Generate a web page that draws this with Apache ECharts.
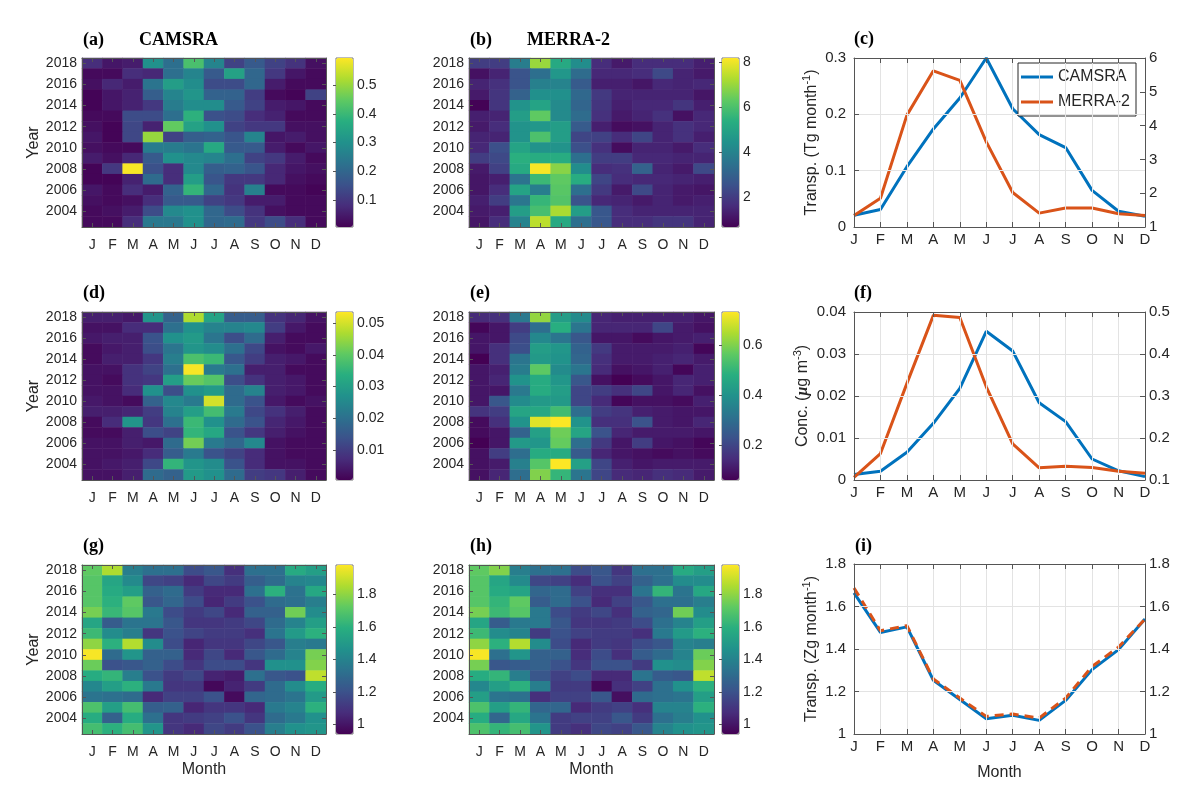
<!DOCTYPE html>
<html><head><meta charset="utf-8">
<script src="https://cdn.jsdelivr.net/npm/echarts@6/dist/echarts.min.js"></script>
<style>html,body{margin:0;padding:0;background:#fff}#c{width:1200px;height:807px}</style>
</head><body><div id="c"></div>
<script>
// ---------------- data ----------------
const months = ['J','F','M','A','M','J','J','A','S','O','N','D'];
const years = ['2003','2004','2005','2006','2007','2008','2009','2010','2011','2012','2013','2014','2015','2016','2017','2018'];

// heatmap rows listed from 2018 (top) down to 2003 (bottom)
const camsraTransp = [
 [0.08,0.04,0.05,0.30,0.22,0.42,0.27,0.12,0.17,0.12,0.09,0.03],
 [0.02,0.02,0.08,0.07,0.22,0.27,0.17,0.34,0.20,0.10,0.04,0.02],
 [0.03,0.07,0.05,0.23,0.33,0.29,0.14,0.14,0.20,0.05,0.02,0.02],
 [0.01,0.04,0.06,0.18,0.27,0.31,0.19,0.19,0.11,0.02,0.01,0.12],
 [0.01,0.04,0.06,0.10,0.25,0.29,0.29,0.17,0.12,0.05,0.04,0.02],
 [0.02,0.02,0.14,0.14,0.22,0.38,0.15,0.14,0.08,0.06,0.02,0.02],
 [0.03,0.01,0.13,0.06,0.45,0.34,0.30,0.12,0.10,0.10,0.03,0.03],
 [0.04,0.01,0.13,0.50,0.12,0.18,0.19,0.16,0.27,0.04,0.05,0.03],
 [0.03,0.02,0.02,0.25,0.25,0.23,0.36,0.17,0.17,0.05,0.02,0.04],
 [0.05,0.03,0.07,0.17,0.30,0.28,0.27,0.22,0.12,0.10,0.05,0.02],
 [0.01,0.10,0.59,0.15,0.08,0.28,0.18,0.19,0.16,0.07,0.04,0.03],
 [0.01,0.01,0.06,0.21,0.08,0.33,0.16,0.10,0.10,0.07,0.03,0.02],
 [0.04,0.02,0.08,0.05,0.19,0.39,0.20,0.09,0.26,0.02,0.02,0.01],
 [0.03,0.02,0.03,0.08,0.17,0.17,0.12,0.10,0.05,0.05,0.02,0.02],
 [0.02,0.03,0.05,0.14,0.28,0.30,0.20,0.14,0.09,0.03,0.02,0.02],
 [0.02,0.02,0.08,0.24,0.24,0.30,0.20,0.21,0.10,0.14,0.08,0.02]
];
const merraTransp = [
 [2.0,2.0,3.8,7.0,5.2,4.3,1.6,1.2,1.6,1.6,1.6,1.3],
 [1.0,1.4,2.6,3.4,4.6,3.3,1.5,1.5,1.6,2.3,1.4,1.2],
 [1.4,1.7,2.6,3.9,4.0,2.8,1.3,1.3,1.1,1.5,1.4,1.5],
 [1.2,1.8,3.0,4.4,4.4,3.2,1.9,1.4,1.4,1.4,1.4,1.1],
 [0.7,1.8,4.5,5.0,4.2,3.1,1.8,1.3,1.5,1.5,1.8,1.3],
 [1.3,1.4,4.8,6.3,4.2,3.3,1.7,1.2,1.4,1.7,1.0,1.5],
 [1.2,1.6,4.5,4.6,4.8,2.8,1.3,0.9,1.0,1.4,1.7,1.5],
 [1.4,1.4,4.5,6.0,4.8,2.2,2.1,1.6,2.2,1.4,1.7,1.3],
 [1.5,2.5,5.0,4.5,4.5,2.5,1.7,0.9,1.4,1.4,1.2,1.6],
 [2.0,2.3,5.4,5.3,5.3,3.4,2.0,2.0,1.5,1.5,1.4,1.4],
 [1.2,2.1,5.2,8.1,6.8,4.3,1.6,1.7,3.0,1.4,1.2,2.3],
 [1.1,1.3,3.5,5.7,6.3,5.3,2.2,1.6,1.5,1.5,1.4,1.3],
 [1.1,1.6,5.0,3.8,6.2,3.4,1.9,1.2,2.3,1.4,1.2,1.1],
 [1.3,2.0,3.6,5.6,6.1,2.6,1.5,1.4,1.2,1.4,1.2,1.3],
 [1.2,1.3,4.8,5.9,7.2,4.8,2.7,1.6,1.4,1.4,1.4,1.4],
 [1.1,1.6,4.0,7.4,5.2,3.4,2.7,1.6,1.6,1.8,1.8,1.4]
];
const camsraConc = [
 [0.005,0.005,0.004,0.028,0.017,0.047,0.031,0.016,0.016,0.008,0.006,0.003],
 [0.003,0.003,0.007,0.007,0.020,0.027,0.024,0.024,0.025,0.010,0.004,0.002],
 [0.004,0.005,0.005,0.014,0.027,0.029,0.021,0.013,0.019,0.005,0.002,0.002],
 [0.002,0.004,0.005,0.013,0.021,0.028,0.026,0.020,0.012,0.003,0.002,0.004],
 [0.002,0.005,0.005,0.009,0.023,0.038,0.036,0.015,0.010,0.005,0.004,0.002],
 [0.003,0.003,0.008,0.011,0.020,0.053,0.022,0.020,0.005,0.005,0.002,0.002],
 [0.003,0.002,0.008,0.009,0.030,0.041,0.039,0.013,0.008,0.005,0.004,0.002],
 [0.003,0.003,0.007,0.027,0.013,0.027,0.029,0.019,0.024,0.005,0.004,0.002],
 [0.004,0.003,0.002,0.017,0.025,0.022,0.050,0.019,0.014,0.004,0.002,0.003],
 [0.005,0.005,0.006,0.010,0.024,0.030,0.037,0.022,0.012,0.008,0.005,0.002],
 [0.002,0.007,0.028,0.009,0.020,0.036,0.027,0.019,0.014,0.006,0.004,0.002],
 [0.002,0.002,0.005,0.013,0.011,0.035,0.032,0.014,0.009,0.005,0.003,0.002],
 [0.003,0.003,0.005,0.004,0.019,0.042,0.022,0.018,0.025,0.003,0.002,0.002],
 [0.003,0.003,0.004,0.007,0.016,0.022,0.014,0.011,0.007,0.003,0.002,0.002],
 [0.003,0.004,0.005,0.012,0.035,0.028,0.026,0.014,0.007,0.003,0.003,0.002],
 [0.003,0.003,0.005,0.019,0.017,0.029,0.027,0.019,0.010,0.009,0.005,0.002]
];
const merraConc = [
 [0.14,0.15,0.33,0.62,0.43,0.38,0.13,0.12,0.12,0.12,0.12,0.10],
 [0.07,0.10,0.18,0.30,0.48,0.32,0.13,0.13,0.13,0.20,0.11,0.09],
 [0.10,0.10,0.21,0.37,0.32,0.24,0.10,0.10,0.08,0.10,0.11,0.12],
 [0.10,0.15,0.22,0.43,0.41,0.27,0.17,0.11,0.11,0.11,0.12,0.07],
 [0.06,0.15,0.32,0.42,0.40,0.28,0.15,0.11,0.11,0.12,0.13,0.11],
 [0.10,0.12,0.34,0.56,0.38,0.32,0.14,0.09,0.10,0.12,0.07,0.12],
 [0.10,0.13,0.40,0.47,0.41,0.24,0.09,0.06,0.08,0.10,0.13,0.12],
 [0.10,0.10,0.33,0.47,0.43,0.20,0.18,0.15,0.20,0.10,0.13,0.09],
 [0.10,0.24,0.38,0.42,0.42,0.20,0.14,0.07,0.09,0.09,0.08,0.12],
 [0.16,0.18,0.45,0.46,0.52,0.30,0.18,0.16,0.12,0.11,0.10,0.10],
 [0.08,0.15,0.40,0.70,0.73,0.40,0.15,0.15,0.23,0.11,0.10,0.13],
 [0.08,0.10,0.27,0.44,0.58,0.45,0.23,0.13,0.11,0.11,0.11,0.10],
 [0.06,0.10,0.42,0.41,0.57,0.30,0.17,0.10,0.18,0.10,0.09,0.07],
 [0.09,0.18,0.30,0.47,0.47,0.25,0.13,0.10,0.09,0.08,0.09,0.08],
 [0.09,0.11,0.35,0.55,0.73,0.44,0.20,0.12,0.10,0.11,0.11,0.11],
 [0.09,0.13,0.30,0.60,0.50,0.32,0.20,0.14,0.13,0.15,0.14,0.11]
];
const camsraMoist = [
 [1.72,1.85,1.38,1.32,1.32,1.18,1.22,1.08,1.32,1.32,1.57,1.52],
 [1.70,1.55,1.43,1.16,1.14,1.06,1.16,1.12,1.25,1.30,1.40,1.42],
 [1.70,1.57,1.52,1.26,1.30,1.12,1.06,1.06,1.32,1.60,1.33,1.56],
 [1.70,1.60,1.72,1.22,1.28,1.18,1.05,1.12,1.20,1.30,1.32,1.38],
 [1.76,1.63,1.70,1.36,1.18,1.12,1.16,1.06,1.26,1.26,1.75,1.44],
 [1.55,1.24,1.34,1.34,1.22,1.10,1.10,1.12,1.16,1.30,1.40,1.52],
 [1.64,1.44,1.38,1.10,1.20,1.15,1.12,1.12,1.08,1.34,1.50,1.60],
 [1.80,1.60,1.86,1.44,1.18,1.05,1.10,1.10,1.16,1.22,1.38,1.36],
 [1.97,1.30,1.48,1.26,1.26,1.06,1.16,1.06,1.22,1.30,1.40,1.76],
 [1.74,1.20,1.22,1.26,1.18,1.10,1.18,1.18,1.10,1.46,1.46,1.78],
 [1.58,1.62,1.38,1.20,1.12,1.16,1.04,1.02,1.32,1.22,1.20,1.88],
 [1.42,1.52,1.60,1.36,1.10,1.10,0.96,1.04,1.12,1.30,1.44,1.58],
 [1.34,1.32,1.30,1.06,1.14,1.14,1.20,0.97,1.28,1.30,1.34,1.50],
 [1.68,1.52,1.66,1.25,1.26,1.05,1.10,1.10,1.06,1.36,1.40,1.60],
 [1.58,1.26,1.58,1.32,1.10,1.12,1.14,1.20,1.10,1.30,1.36,1.46],
 [1.66,1.60,1.66,1.48,1.10,1.06,1.16,1.12,1.20,1.38,1.46,1.48]
];
const merraMoist = [
 [1.72,1.78,1.38,1.32,1.32,1.18,1.22,1.10,1.32,1.32,1.57,1.52],
 [1.70,1.55,1.43,1.16,1.14,1.07,1.20,1.14,1.26,1.32,1.44,1.44],
 [1.70,1.57,1.54,1.28,1.30,1.14,1.08,1.08,1.34,1.62,1.34,1.56],
 [1.70,1.62,1.72,1.24,1.30,1.20,1.06,1.14,1.22,1.32,1.32,1.38],
 [1.76,1.64,1.70,1.36,1.18,1.12,1.16,1.08,1.26,1.28,1.75,1.44],
 [1.55,1.24,1.36,1.36,1.22,1.10,1.10,1.12,1.18,1.32,1.40,1.52],
 [1.64,1.44,1.40,1.12,1.20,1.14,1.12,1.12,1.08,1.36,1.50,1.60],
 [1.80,1.60,1.86,1.44,1.18,1.06,1.12,1.10,1.18,1.22,1.40,1.38],
 [1.97,1.32,1.48,1.26,1.26,1.07,1.18,1.08,1.24,1.30,1.40,1.74],
 [1.76,1.22,1.24,1.26,1.20,1.10,1.20,1.20,1.12,1.46,1.44,1.78],
 [1.58,1.62,1.38,1.22,1.14,1.18,1.06,1.06,1.34,1.24,1.22,1.88],
 [1.42,1.52,1.60,1.38,1.12,1.12,0.96,1.08,1.14,1.32,1.46,1.60],
 [1.52,1.34,1.32,1.08,1.14,1.14,1.22,0.98,1.30,1.32,1.34,1.52],
 [1.68,1.52,1.62,1.28,1.28,1.06,1.12,1.14,1.08,1.40,1.40,1.60],
 [1.58,1.28,1.56,1.34,1.12,1.14,1.14,1.22,1.12,1.32,1.38,1.46],
 [1.68,1.62,1.66,1.48,1.12,1.08,1.16,1.14,1.22,1.40,1.46,1.48]
];

// monthly climatologies (line panels)
const camsraTranspMean = [0.021,0.031,0.107,0.174,0.229,0.300,0.210,0.164,0.141,0.065,0.028,0.019];
const merraTranspMean  = [1.34,1.85,4.31,5.62,5.34,3.52,2.02,1.41,1.56,1.56,1.39,1.34];
const camsraConcMean   = [0.0013,0.0021,0.0066,0.0135,0.0218,0.0354,0.0307,0.0184,0.0139,0.0050,0.0022,0.0008];
const merraConcMean    = [0.106,0.163,0.330,0.492,0.487,0.322,0.186,0.129,0.133,0.130,0.121,0.116];
const camsraMoistMean  = [1.664,1.478,1.504,1.253,1.162,1.072,1.088,1.064,1.158,1.303,1.397,1.541];
const merraMoistMean   = [1.687,1.486,1.510,1.259,1.169,1.083,1.094,1.075,1.169,1.318,1.409,1.541];

// ---------------- build ----------------
const viridis = ['#440154','#472d7b','#3b528b','#2c728e','#21918c','#28ae80','#5ec962','#addc30','#fde725'];
const FONT = '"Liberation Sans", Arial, Helvetica, sans-serif';
const SERIF = '"Liberation Serif", "Times New Roman", serif';
const AX = '#555555';
const TXT = '#262626';
const BLUE = '#0072BD', ORANGE = '#D95319';

const grid=[], xAxis=[], yAxis=[], series=[], visualMap=[];
const evenYear = (i, v) => (+v) % 2 === 0;

const heatPanels = [
  {data: camsraTransp, x:82,  w:244, y:58,  h:169, cbx:336, min:0.005, max:0.595, split:5, yName:true},
  {data: merraTransp,  x:469, w:245, y:58,  h:169, cbx:722, min:0.66,  max:8.18,  split:5},
  {data: camsraConc,   x:82,  w:244, y:312, h:168, cbx:336, min:0.0005,max:0.0535,split:5, yName:true},
  {data: merraConc,    x:469, w:245, y:312, h:168, cbx:722, min:0.06,  max:0.731, split:3},
  {data: camsraMoist,  x:82,  w:244, y:565, h:169, cbx:336, min:0.94,  max:1.98,  split:5, yName:true, xName:true},
  {data: merraMoist,   x:469, w:245, y:565, h:169, cbx:722, min:0.94,  max:1.98,  split:5, xName:true}
];

const lineAxisStyle = {show:true, onZero:false, lineStyle:{color:AX, width:1}};
const tickStyle = (len) => ({show:true, inside:true, length:len, lineStyle:{color:AX, width:1}});
const labelStyle = (m) => ({fontSize:14, color:TXT, fontFamily:FONT, margin:m});

heatPanels.forEach(p => {
  const g = grid.length;
  grid.push({left:p.x, top:p.y, width:p.w, height:p.h});
  const xi = xAxis.length;
  xAxis.push({gridIndex:g, type:'category', data:months, position:'bottom', z:5,
    axisLine:lineAxisStyle, axisTick:Object.assign(tickStyle(4),{alignWithLabel:true, interval:0}),
    axisLabel:Object.assign(labelStyle(11),{interval:0}), splitLine:{show:false},
    name:p.xName?'Month':'', nameLocation:'middle', nameGap:28,
    nameTextStyle:{fontSize:16, color:TXT, fontFamily:FONT}});
  xAxis.push({gridIndex:g, type:'category', data:months, position:'top', z:5,
    axisLine:lineAxisStyle, axisTick:Object.assign(tickStyle(4),{alignWithLabel:true, interval:0}),
    axisLabel:{show:false}, splitLine:{show:false}});
  const yi = yAxis.length;
  yAxis.push({gridIndex:g, type:'category', data:years, position:'left', z:5,
    axisLine:lineAxisStyle, axisTick:Object.assign(tickStyle(4),{alignWithLabel:true, interval:evenYear}),
    axisLabel:Object.assign(labelStyle(5),{interval:evenYear}), splitLine:{show:false},
    name:p.yName?'Year':'', nameLocation:'middle', nameGap:40, nameRotate:90,
    nameTextStyle:{fontSize:16, color:TXT, fontFamily:FONT}});
  yAxis.push({gridIndex:g, type:'category', data:years, position:'right', z:5,
    axisLine:lineAxisStyle, axisTick:Object.assign(tickStyle(4),{alignWithLabel:true, interval:evenYear}),
    axisLabel:{show:false}, splitLine:{show:false}});
  const data = [];
  p.data.forEach((row, r) => row.forEach((v, c) => data.push([c, years.length - 1 - r, v])));
  const si = series.length;
  series.push({type:'heatmap', xAxisIndex:xi, yAxisIndex:yi, data:data, progressive:0,
    itemStyle:{borderWidth:0}, emphasis:{disabled:true}});
  visualMap.push({type:'continuous', seriesIndex:si, min:p.min, max:p.max, inRange:{color:viridis},
    calculable:false, hoverLink:false, left:p.cbx, top:p.y, itemWidth:17, itemHeight:p.h, padding:0, text:null});
  // colorbar axis
  const cg = grid.length;
  grid.push({left:p.cbx, top:p.y, width:17, height:p.h, show:true, borderColor:'#777', borderWidth:1, backgroundColor:'transparent'});
  xAxis.push({gridIndex:cg, type:'value', show:false, min:0, max:1});
  yAxis.push({gridIndex:cg, type:'value', position:'right', min:p.min, max:p.max, splitNumber:p.split, z:10,
    axisLine:{show:false}, axisTick:tickStyle(3),
    axisLabel:Object.assign(labelStyle(4),{showMinLabel:false, showMaxLabel:false}), splitLine:{show:false}});
});

const linePanels = [
  {a:camsraTranspMean, b:merraTranspMean, y:58,  h:169, lmin:0, lmax:0.3,  li:0.1,  rmin:1,   rmax:6,   ri:1,
   name:'Transp. (Tg month{s|-1})'},
  {a:camsraConcMean,   b:merraConcMean,   y:312, h:168, lmin:0, lmax:0.04, li:0.01, rmin:0.1, rmax:0.5, ri:0.1,
   name:'Conc. ({m|\u03bc}g m{s|-3})'},
  {a:camsraMoistMean,  b:merraMoistMean,  y:564, h:170, lmin:1, lmax:1.8,  li:0.2,  rmin:1,   rmax:1.8, ri:0.2,
   name:'Transp. (Zg month{s|-1})', dashed:true, xName:true}
];
const GRIDC = '#e3e3e3';
linePanels.forEach(p => {
  const g = grid.length;
  grid.push({left:854, top:p.y, width:291, height:p.h});
  const xi = xAxis.length;
  xAxis.push({gridIndex:g, type:'category', data:months, boundaryGap:false, position:'bottom', z:5,
    axisLine:lineAxisStyle, axisTick:Object.assign(tickStyle(5),{interval:0}),
    axisLabel:Object.assign(labelStyle(5),{interval:0, fontSize:15}),
    splitLine:{show:true, interval:0, lineStyle:{color:GRIDC, width:1}},
    name:p.xName?'Month':'', nameLocation:'middle', nameGap:31,
    nameTextStyle:{fontSize:16, color:TXT, fontFamily:FONT}});
  xAxis.push({gridIndex:g, type:'category', data:months, boundaryGap:false, position:'top', z:5,
    axisLine:lineAxisStyle, axisTick:Object.assign(tickStyle(5),{interval:0}),
    axisLabel:{show:false}, splitLine:{show:false}});
  const yl = yAxis.length;
  yAxis.push({gridIndex:g, type:'value', position:'left', min:p.lmin, max:p.lmax, interval:p.li, z:5,
    axisLine:lineAxisStyle, axisTick:tickStyle(5), axisLabel:Object.assign(labelStyle(8),{fontSize:15}),
    splitLine:{show:true, lineStyle:{color:GRIDC, width:1}},
    name:p.name, nameLocation:'middle', nameGap:32, nameRotate:90,
    nameTextStyle:{fontSize:16, color:TXT, fontFamily:FONT, lineHeight:20,
      rich:{s:{fontSize:11, color:TXT, fontFamily:FONT, verticalAlign:'top', lineHeight:12},
            m:{fontSize:16, color:TXT, fontFamily:SERIF, fontStyle:'italic', fontWeight:'bold', lineHeight:20}}}});
  const yr = yAxis.length;
  yAxis.push({gridIndex:g, type:'value', position:'right', min:p.rmin, max:p.rmax, interval:p.ri, z:5,
    axisLine:lineAxisStyle, axisTick:tickStyle(5), axisLabel:Object.assign(labelStyle(4),{fontSize:15}),
    splitLine:{show:false}});
  series.push({type:'line', name:'CAMSRA', xAxisIndex:xi, yAxisIndex:yl, data:p.a, symbol:'none',
    lineStyle:{color:BLUE, width:3}, itemStyle:{color:BLUE}, z:3});
  series.push({type:'line', name:'MERRA-2', xAxisIndex:xi, yAxisIndex:yr, data:p.b, symbol:'none',
    lineStyle:{color:ORANGE, width:3, type:p.dashed?[9,6]:'solid'}, itemStyle:{color:ORANGE}, z:4});
});

const panelLabel = (t, left, top) => ({text:t, left:left, top:top, padding:0,
  textStyle:{fontFamily:SERIF, fontWeight:'bold', fontSize:18, color:'#000'}});
const title = [
  panelLabel('(a)', 83, 31), panelLabel('CAMSRA', 139, 31),
  panelLabel('(b)', 470, 31), panelLabel('MERRA-2', 527, 31),
  panelLabel('(c)', 854, 30),
  panelLabel('(d)', 83, 284), panelLabel('(e)', 470, 284), panelLabel('(f)', 854, 284),
  panelLabel('(g)', 83, 537), panelLabel('(h)', 470, 537), panelLabel('(i)', 855, 537)
];

const option = {
  animation:false,
  backgroundColor:'#fff',
  title:title,
  legend:{data:[{name:'CAMSRA', icon:'rect', itemStyle:{color:BLUE}}, {name:'MERRA-2', icon:'rect', itemStyle:{color:ORANGE}}],
    orient:'vertical', left:1018, top:63, itemWidth:32, itemHeight:3, itemGap:7,
    padding:[5,6,5,3], borderColor:'#262626', borderWidth:1, backgroundColor:'#fff', selectedMode:false,
    textStyle:{fontSize:16, color:TXT, fontFamily:FONT, lineHeight:18}},
  grid:grid, xAxis:xAxis, yAxis:yAxis, visualMap:visualMap, series:series
};
const chart = echarts.init(document.getElementById('c'), null, {renderer:'canvas'});
chart.setOption(option);
</script></body></html>
